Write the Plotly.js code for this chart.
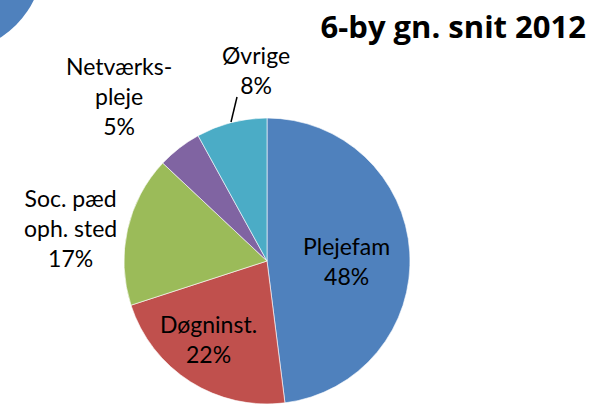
<!DOCTYPE html>
<html>
<head>
<meta charset="utf-8">
<script src="https://cdn.plot.ly/plotly-3.0.1.min.js"></script>
<style>
  html, body { margin: 0; padding: 0; background: #fff; }
  #chart { width: 589px; height: 404px; }
</style>
</head>
<body>
<div id="chart"></div>
<script>
// data
const labels = ['Plejefam', 'Døgninst.', 'Soc. pæd<br>oph. sted', 'Netværks-<br>pleje', 'Øvrige'];
const values = [48, 22, 17, 5, 8];
const colors = ['#4F81BD', '#C0504D', '#9BBB59', '#8064A2', '#4BACC6'];

// label centres in pixels (x, y)
const labelPos = [[346, 261], [208, 339], [70, 228], [119, 96], [256, 70]];

const W = 589, H = 404;
const px = x => x / W;
const py = y => 1 - y / H;

const FONT = 'Lato, "Liberation Sans", sans-serif';

const trace = {
  type: 'pie',
  labels: labels,
  values: values,
  sort: false,
  direction: 'clockwise',
  rotation: 0,
  textinfo: 'none',
  hoverinfo: 'label+percent',
  marker: { colors: colors, line: { color: 'rgba(255,255,255,0.6)', width: 1 } },
  domain: { x: [px(124), px(410)], y: [0, py(118)] },
  showlegend: false
};

const annotations = labels.map((lab, i) => ({
  xref: 'paper', yref: 'paper',
  x: px(labelPos[i][0]), y: py(labelPos[i][1]),
  xanchor: 'center', yanchor: 'middle',
  text: lab + '<br>' + values[i] + '%',
  showarrow: false,
  font: { family: FONT, size: 23, color: '#000' }
}));

const layout = {
  width: W, height: H,
  margin: { l: 0, r: 0, t: 0, b: 0 },
  paper_bgcolor: '#fff',
  title: {
    text: '<b>6-by gn. snit 2012</b>',
    xref: 'paper', yref: 'paper',
    x: px(586), xanchor: 'right',
    y: py(27), yanchor: 'middle',
    font: { family: '"Open Sans", Lato, sans-serif', size: 31, color: '#000' }
  },
  annotations: annotations,
  shapes: [
    // blue circle peeking in at the top-left corner
    { type: 'circle', xref: 'paper', yref: 'paper',
      x0: px(-141), x1: px(43), y0: py(52), y1: py(-132),
      fillcolor: '#4F81BD', line: { width: 0 } },
    // leader line to Øvrige
    { type: 'line', xref: 'paper', yref: 'paper',
      x0: px(237), y0: py(97), x1: px(231), y1: py(122),
      line: { color: '#000', width: 1.5 } }
  ]
};

Plotly.newPlot('chart', [trace], layout, { displayModeBar: false, staticPlot: true });
</script>
</body>
</html>
